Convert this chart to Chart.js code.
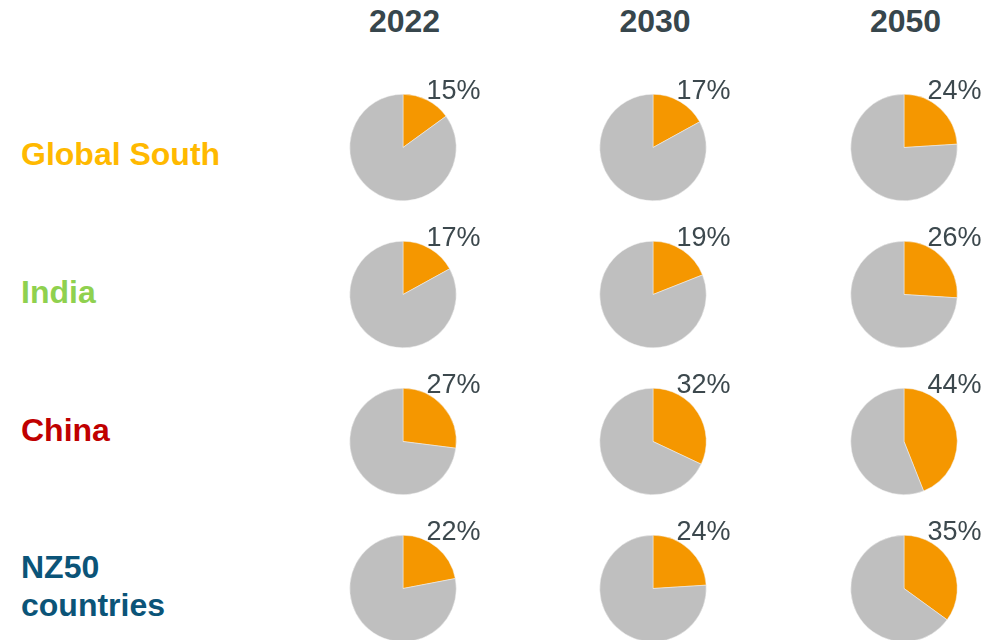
<!DOCTYPE html>
<html>
<head>
<meta charset="utf-8">
<script src="https://cdn.jsdelivr.net/npm/chart.js@4"></script>
<style>
  html, body { margin: 0; padding: 0; background: #ffffff; }
  body { width: 1005px; height: 640px; position: relative; overflow: hidden;
         font-family: "Liberation Sans", Arial, sans-serif; }
  .year { position: absolute; top: 5px; width: 120px; margin-left: -60px; text-align: center;
          font-size: 32px; line-height: 32px; font-weight: bold; color: #37464c; }
  .region { position: absolute; left: 21px; font-size: 32px; line-height: 38.5px; font-weight: bold; }
  .cell { position: absolute; width: 250px; height: 147px; }
</style>
</head>
<body>
<script>
// Years shown across the top and regions down the side
const years = ['2022', '2030', '2050'];
const regions = ['Global South', 'India', 'China', 'NZ50 countries'];
const regionLines = [['Global South'], ['India'], ['China'], ['NZ50', 'countries']];

// Share (%) per region for 2022 / 2030 / 2050
const globalSouth = [15, 17, 24];
const india = [17, 19, 26];
const china = [27, 32, 44];
const nz50 = [22, 24, 35];
const shares = [globalSouth, india, china, nz50];

// Page layout
const colCenters = [402.5, 653, 903.5];
const rowCenters = [147.5, 294.5, 441.5, 588];
const regionBaselines = [165, 303, 441, 578];
const regionColors = ['#ffb900', '#8fd14f', '#c00000', '#0b5478'];
const shareColor = '#f59700';
const restColor = '#bfbfbf';

years.forEach((y, c) => {
  const d = document.createElement('div');
  d.className = 'year';
  d.style.left = (colCenters[c] + 2) + 'px';
  d.textContent = y;
  document.body.appendChild(d);
});

regionLines.forEach((lines, r) => {
  const d = document.createElement('div');
  d.className = 'region';
  d.style.color = regionColors[r];
  // place the first baseline: half-leading plus ascent below the box top
  d.style.top = (regionBaselines[r] - (38.5 - 32 * 1.117) / 2 - 32 * 0.905) + 'px';
  lines.forEach((t, i) => {
    if (i) d.appendChild(document.createElement('br'));
    d.appendChild(document.createTextNode(t));
  });
  document.body.appendChild(d);
});

// Percentage label drawn above the upper-right of each pie
const shareLabel = {
  id: 'shareLabel',
  afterDatasetsDraw(chart) {
    const arc = chart.getDatasetMeta(0).data[0];
    const v = chart.data.datasets[0].data[0];
    const ctx = chart.ctx;
    ctx.save();
    ctx.font = '27px "Liberation Sans", Arial, sans-serif';
    ctx.fillStyle = '#3c484d';
    ctx.textAlign = 'center';
    ctx.textBaseline = 'middle';
    ctx.fillText(v + '%', arc.x + arc.outerRadius * 0.95, arc.y - arc.outerRadius * 1.06);
    ctx.restore();
  }
};

shares.forEach((row, r) => {
  row.forEach((v, c) => {
    const cell = document.createElement('div');
    cell.className = 'cell';
    cell.style.left = (colCenters[c] - 125) + 'px';
    cell.style.top = (rowCenters[r] - 73.5) + 'px';
    const cv = document.createElement('canvas');
    cv.width = 250; cv.height = 147;
    cell.appendChild(cv);
    document.body.appendChild(cell);
    new Chart(cv, {
      type: 'pie',
      data: {
        labels: [regions[r] + ' ' + years[c], 'Other'],
        datasets: [{
          data: [v, 100 - v],
          backgroundColor: [shareColor, restColor],
          borderColor: '#f2f2f2',
          borderWidth: 0.5
        }]
      },
      options: {
        responsive: false,
        animation: false,
        layout: { padding: { top: 20, bottom: 20, left: 0, right: 0 } },
        plugins: { legend: { display: false }, tooltip: { enabled: false } }
      },
      plugins: [shareLabel]
    });
  });
});
</script>
</body>
</html>
